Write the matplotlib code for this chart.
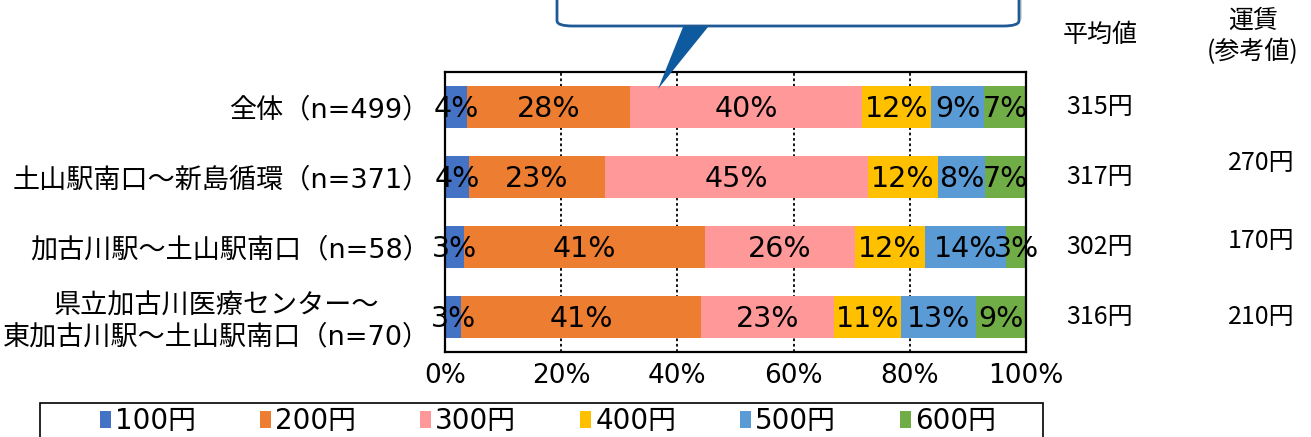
import matplotlib

matplotlib.use("Agg")
import matplotlib.pyplot as plt
from matplotlib.patches import FancyBboxPatch, Polygon, Rectangle

# wide latin digits (DejaVu) with Japanese glyphs from Noto CJK
plt.rcParams["font.family"] = ["DejaVu Sans", "Noto Sans CJK JP"]
JP = ["Noto Sans CJK JP", "DejaVu Sans"]

# --- data ---
categories = [
    "全体（n=499）",
    "土山駅南口～新島循環（n=371）",
    "加古川駅～土山駅南口（n=58）",
    "県立加古川医療センター～\n東加古川駅～土山駅南口（n=70）",
]
fare_bands = ["100円", "200円", "300円", "400円", "500円", "600円"]
share_100 = [3.8, 4.1, 3.3, 2.8]
share_200 = [28.0, 23.4, 41.4, 41.3]
share_300 = [40.0, 45.3, 25.9, 22.9]
share_400 = [11.8, 12.1, 12.0, 11.4]
share_500 = [9.2, 8.0, 14.0, 13.0]
share_600 = [7.2, 7.1, 3.4, 8.6]
mean_fare = ["315円", "317円", "302円", "316円"]
ref_fare = ["", "270円", "170円", "210円"]
x_ticks = [0, 20, 40, 60, 80, 100]

shares = [share_100, share_200, share_300, share_400, share_500, share_600]
colors = ["#4472C4", "#ED7D31", "#FF9999", "#FFC000", "#5B9BD5", "#70AD47"]

W, H = 1311, 437


def fx(px):
    return px / W


def fy(py):
    return 1 - py / H


fig = plt.figure(figsize=(W / 100, H / 100), dpi=100)
ax = fig.add_axes([fx(445), fy(352), fx(1026) - fx(445), fy(72) - fy(352)])

ax.set_axisbelow(True)
ax.grid(axis="x", color="black", ls=(0, (1.5, 1.5)), lw=1.3)

ypos = list(range(len(categories)))
left = [0.0] * len(categories)
handles = []
for band, vals, col in zip(fare_bands, shares, colors):
    bars = ax.barh(ypos, vals, left=left, height=0.61, color=col, label=band, zorder=2)
    handles.append(bars)
    for y, v, l in zip(ypos, vals, left):
        ax.text(l + v / 2, y + 0.03, f"{round(v)}%", ha="center", va="center", fontsize=20.5, zorder=3)
    left = [a + b for a, b in zip(left, vals)]

ax.set_xlim(0, 100)
ax.set_ylim(3.5, -0.5)
ax.set_xticks(x_ticks)
ax.set_xticklabels([f"{t}%" for t in x_ticks], fontsize=19)
ax.set_yticks(ypos)
ax.set_yticklabels(categories, fontsize=19.5)
for lab in ax.get_yticklabels():
    lab.set_multialignment("center")
ax.tick_params(axis="both", length=0)
ax.tick_params(axis="y", pad=11)
ax.tick_params(axis="x", pad=8)
for sp in ax.spines.values():
    sp.set_color("black")
    sp.set_linewidth(1.6)

# right-hand columns: mean fare and reference fare
ref_dy = [0, -0.2, -0.08, 0]
for y, m, r, dy in zip(ypos, mean_fare, ref_fare, ref_dy):
    ax.text(112.7, y, m, ha="center", va="center", fontsize=18, family=JP, clip_on=False)
    if r:
        ax.text(140.5, y + dy, r, ha="center", va="center", fontsize=18, family=JP, clip_on=False)
fig.text(fx(1100), fy(35), "平均値", ha="center", va="center", fontsize=18, family=JP)
fig.text(fx(1253), fy(21), "運賃", ha="center", va="center", fontsize=18, family=JP)
fig.text(fx(1253), fy(52), "(参考値)", ha="center", va="center", fontsize=18, family=JP)

# legend with a box that runs off the bottom edge
fig.patches.append(
    Rectangle((fx(40), -0.2), fx(1043) - fx(40), fy(403) + 0.2, transform=fig.transFigure,
              fill=False, edgecolor="black", lw=1.2)
)
fig.legend(
    handles=handles, labels=fare_bands, ncol=6, loc="center",
    bbox_to_anchor=(fx(548), fy(421)), frameon=False, fontsize=20,
    handlelength=0.4, handleheight=0.55, handletextpad=0.15, columnspacing=2.3,
    borderpad=0,
)

# callout bubble (top, cut off by the figure edge)
fig.patches.append(
    FancyBboxPatch((fx(560), fy(23)), fx(1022) - fx(560), fy(-40) - fy(23),
                   boxstyle="round,pad=0,rounding_size=0.012", transform=fig.transFigure,
                   facecolor="#bdbdbd", edgecolor="none", alpha=0.6, zorder=4)
)
fig.patches.append(
    FancyBboxPatch((fx(557), fy(26)), fx(1019) - fx(557), fy(-40) - fy(26),
                   boxstyle="round,pad=0,rounding_size=0.012", transform=fig.transFigure,
                   facecolor="white", edgecolor="#1F5A96", lw=2, zorder=5)
)
fig.patches.append(
    Polygon([(fx(683), fy(27)), (fx(708), fy(27)), (fx(658), fy(89))], closed=True,
            transform=fig.transFigure, facecolor="#0E5A9E", edgecolor="none", zorder=6)
)

fig.savefig("out.png", dpi=100)
